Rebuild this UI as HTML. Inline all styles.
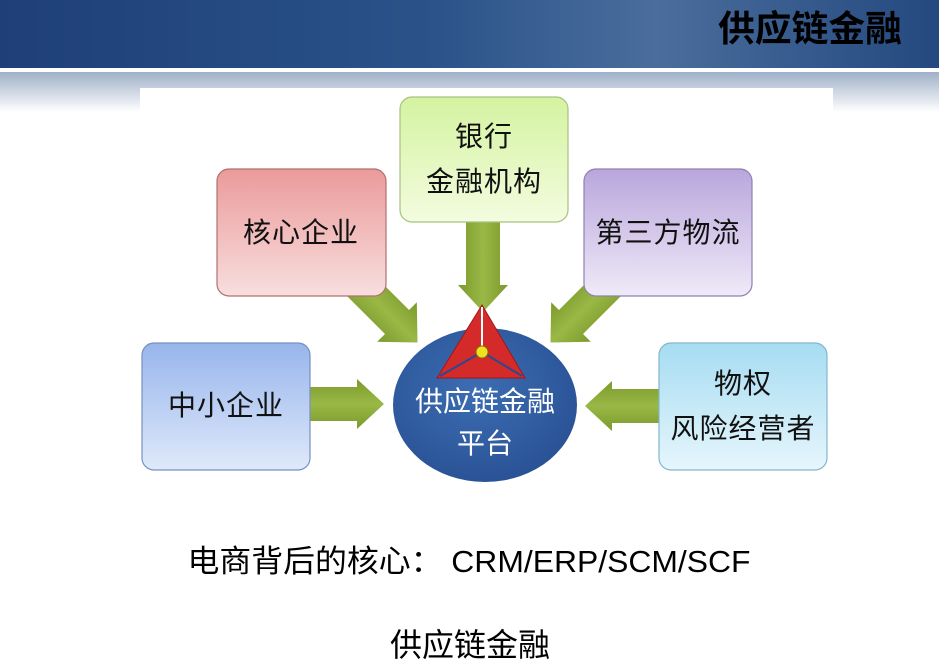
<!DOCTYPE html>
<html><head><meta charset="utf-8"><style>
html,body{margin:0;padding:0;width:939px;height:665px;overflow:hidden;background:#fff;font-family:"Liberation Sans","Noto Sans CJK SC",sans-serif}
</style></head><body>
<svg width="939" height="665" viewBox="0 0 939 665" xmlns="http://www.w3.org/2000/svg" style="position:absolute;left:0;top:0">
<defs>
<linearGradient id="hdr" x1="0" x2="1" y1="0" y2="0"><stop offset="0" stop-color="#1f3f78"/><stop offset="0.45" stop-color="#2a5289"/><stop offset="0.7" stop-color="#4a6d9c"/><stop offset="1" stop-color="#24497f"/></linearGradient>
<linearGradient id="fade" x1="0" x2="0" y1="0" y2="1"><stop offset="0" stop-color="#9fb0c8"/><stop offset="1" stop-color="#ffffff"/></linearGradient>
<linearGradient id="pink" x1="0" x2="0" y1="0" y2="1"><stop offset="0" stop-color="#eb9a9a"/><stop offset="1" stop-color="#f8dede"/></linearGradient>
<linearGradient id="green" x1="0" x2="0" y1="0" y2="1"><stop offset="0" stop-color="#d4f3a0"/><stop offset="1" stop-color="#f3fcdf"/></linearGradient>
<linearGradient id="purple" x1="0" x2="0" y1="0" y2="1"><stop offset="0" stop-color="#b9a6dc"/><stop offset="1" stop-color="#efeaf8"/></linearGradient>
<linearGradient id="blue" x1="0" x2="0" y1="0" y2="1"><stop offset="0" stop-color="#97b5ec"/><stop offset="1" stop-color="#dfe9fa"/></linearGradient>
<linearGradient id="cyan" x1="0" x2="0" y1="0" y2="1"><stop offset="0" stop-color="#a6dcf2"/><stop offset="1" stop-color="#e6f6fc"/></linearGradient>
<linearGradient id="arr" x1="0" x2="0" y1="0" y2="1"><stop offset="0" stop-color="#7a9a2c"/><stop offset="0.5" stop-color="#9ab846"/><stop offset="1" stop-color="#7a9a2c"/></linearGradient>
<radialGradient id="ell" cx="0.45" cy="0.4" r="0.6"><stop offset="0" stop-color="#3d6db3"/><stop offset="1" stop-color="#2a5396"/></radialGradient>
</defs>
<rect x="0" y="0" width="939" height="68" fill="url(#hdr)"/>
<rect x="0" y="68" width="939" height="4" fill="#ffffff"/>
<rect x="0" y="72" width="939" height="40" fill="url(#fade)"/>
<rect x="140" y="88" width="693" height="400" fill="#fff"/>
<text x="810" y="41" font-size="36" font-weight="bold" text-anchor="middle" fill="#000" font-family="Liberation Sans,Noto Sans CJK SC,sans-serif" textLength="184" lengthAdjust="spacingAndGlyphs">供应链金融</text>

<g fill="url(#arr)">
<polygon transform="translate(310,404)" points="0,-17 47,-17 47,-25 74,0 47,25 47,17 0,17"/>
<polygon transform="translate(659,406) rotate(180)" points="0,-17 47,-17 47,-25 74,0 47,25 47,17 0,17"/>
<polygon transform="translate(483,222) rotate(90)" points="0,-17 63,-17 63,-25 90,0 63,25 63,17 0,17"/>
<polygon transform="translate(356,281) rotate(45)" points="0,-17 58,-17 58,-28 87,0 58,28 58,17 0,17"/>
<polygon transform="translate(612,281) rotate(135)" points="0,-17 58,-17 58,-28 87,0 58,28 58,17 0,17"/>
</g>

<rect x="217" y="169" width="169" height="127" rx="12" fill="url(#pink)" stroke="#b07070" stroke-width="1.2"/>
<rect x="400" y="97" width="168" height="125" rx="12" fill="url(#green)" stroke="#a8c080" stroke-width="1.2"/>
<rect x="584" y="169" width="168" height="127" rx="12" fill="url(#purple)" stroke="#9080b0" stroke-width="1.2"/>
<rect x="142" y="343" width="168" height="127" rx="12" fill="url(#blue)" stroke="#7890c0" stroke-width="1.2"/>
<rect x="659" y="343" width="168" height="127" rx="12" fill="url(#cyan)" stroke="#80b8cc" stroke-width="1.2"/>

<g font-size="28" fill="#111" text-anchor="middle" font-family="Liberation Sans,Noto Sans CJK SC,sans-serif" letter-spacing="1">
<text x="301" y="242">核心企业</text>
<text x="484" y="146">银行</text>
<text x="484" y="191">金融机构</text>
<text x="668" y="242">第三方物流</text>
<text x="226" y="415">中小企业</text>
<text x="743" y="393">物权</text>
<text x="743" y="438">风险经营者</text>
</g>

<ellipse cx="485" cy="405" rx="92" ry="77" fill="url(#ell)"/>
<polygon points="482,305 437,378 525,378" fill="#d42a2a" stroke="#a01818" stroke-width="1"/>
<line x1="482" y1="307" x2="482" y2="347" stroke="#fff" stroke-width="2"/>
<line x1="482" y1="352" x2="440" y2="376" stroke="#2a4a90" stroke-width="2"/>
<line x1="482" y1="352" x2="522" y2="376" stroke="#2a4a90" stroke-width="2"/>
<circle cx="482" cy="352" r="6" fill="#f0e020" stroke="#807010"/>
<g font-size="28" fill="#fff" text-anchor="middle" font-family="Liberation Sans,Noto Sans CJK SC,sans-serif">
<text x="485" y="411">供应链金融</text>
<text x="485" y="453">平台</text>
</g>

<text x="469" y="572" font-size="31" text-anchor="middle" fill="#000" font-family="Liberation Sans,Noto Sans CJK SC,sans-serif" textLength="563" lengthAdjust="spacingAndGlyphs">电商背后的核心： CRM/ERP/SCM/SCF</text>
<text x="470" y="656" font-size="32" text-anchor="middle" fill="#000" font-family="Liberation Sans,Noto Sans CJK SC,sans-serif" textLength="160" lengthAdjust="spacingAndGlyphs">供应链金融</text>
</svg>
</body></html>
